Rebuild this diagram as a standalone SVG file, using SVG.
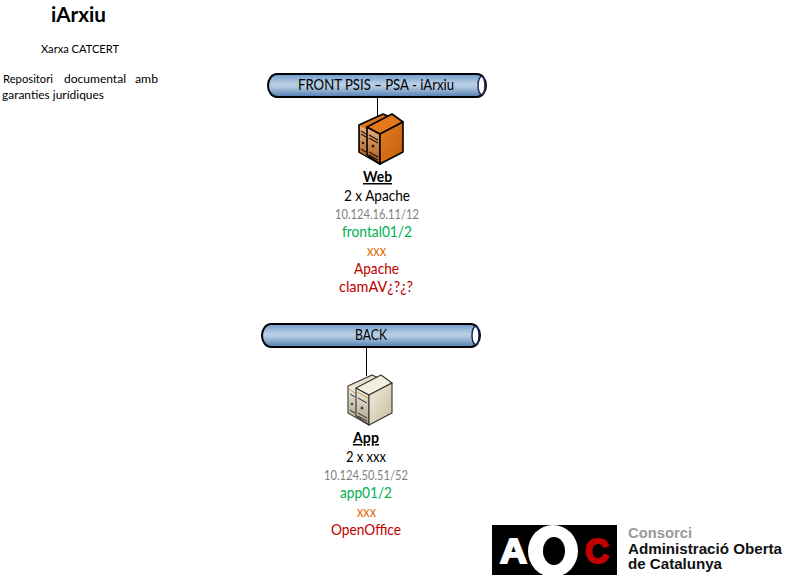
<svg xmlns="http://www.w3.org/2000/svg" width="794" height="586" viewBox="0 0 794 586">
<style>
text{font-family:"Lato","Carlito","Liberation Sans",sans-serif;font-size:15px;fill:#000}
.ip{font-size:13px;fill:#7f7f7f}
.gr{fill:#00b050}
.or{fill:#e36c0a}
.rd{fill:#c00000}
.hd{font-weight:700;text-decoration:underline}
.sm{font-size:12px}
.lg{font-family:"Liberation Sans",Arial,sans-serif;font-weight:700}
.pipe{fill:url(#pg);stroke:#000;stroke-width:2}
.cap{fill:#fff;stroke:#1f2a5a;stroke-width:1.500}
.link{stroke:#000;stroke-width:1;fill:none}
.ol{stroke:#000;stroke-width:1.600;stroke-linejoin:round}
.ob{stroke:#333;stroke-width:1.100;stroke-linejoin:round}
</style>
<defs>
<linearGradient id="pg" x1="0" y1="0" x2="0" y2="1">
<stop offset="0" stop-color="#6f9ccb"/><stop offset="0.45" stop-color="#bcd0e5"/><stop offset="0.6" stop-color="#a9c2dc"/><stop offset="1" stop-color="#4f7db2"/>
</linearGradient>
<linearGradient id="ogf" x1="0" y1="0" x2="1" y2="1"><stop offset="0" stop-color="#e57f20"/><stop offset="1" stop-color="#c05c0c"/></linearGradient>
<linearGradient id="ogs" x1="0" y1="0" x2="0" y2="1"><stop offset="0" stop-color="#e8b080"/><stop offset="1" stop-color="#a85a18"/></linearGradient>
<linearGradient id="bgf" x1="0" y1="0" x2="1" y2="1"><stop offset="0" stop-color="#f5efe0"/><stop offset="1" stop-color="#c8ba9a"/></linearGradient>
<linearGradient id="bgs" x1="0" y1="0" x2="0" y2="1"><stop offset="0" stop-color="#f5f0e4"/><stop offset="1" stop-color="#a89c84"/></linearGradient>
</defs>

<g id="connectors">
<line class="link" x1="377.500" y1="97" x2="377.500" y2="116"/>
<line class="link" x1="366.500" y1="347" x2="366.500" y2="376"/>
</g>

<g id="title">
<text x="51" y="22" style="font-size:20px;font-weight:700" textLength="55" lengthAdjust="spacingAndGlyphs">iArxiu</text>
<text x="41" y="53" class="sm" textLength="78" lengthAdjust="spacingAndGlyphs">Xarxa CATCERT</text>
<text x="3" y="83" class="sm" textLength="50" lengthAdjust="spacingAndGlyphs">Repositori</text>
<text x="64" y="83" class="sm" textLength="62" lengthAdjust="spacingAndGlyphs">documental</text>
<text x="135" y="83" class="sm" textLength="23" lengthAdjust="spacingAndGlyphs">amb</text>
<text x="2" y="99" class="sm" textLength="102" lengthAdjust="spacingAndGlyphs">garanties jurídiques</text>
</g>

<g id="pipe-front">
<rect class="pipe" x="268" y="74" width="218" height="23" rx="9" ry="11.500"/>
<ellipse class="cap" cx="481.500" cy="85.500" rx="3.500" ry="9"/>
<text x="298" y="90" textLength="156" lengthAdjust="spacingAndGlyphs">FRONT PSIS – PSA - iArxiu</text>
</g>

<g id="pipe-back">
<rect class="pipe" x="262" y="324" width="218" height="23" rx="9" ry="11.500"/>
<ellipse class="cap" cx="475.500" cy="335.500" rx="3.500" ry="9"/>
<text x="355" y="340" textLength="32" lengthAdjust="spacingAndGlyphs">BACK</text>
</g>

<g id="web">
<g id="web-icon">
<path class="ol" fill="url(#ogf)" d="M359 125L383 114L392 118L367 130V155L380 164L359 152Z"/>
<path fill="url(#ogs)" d="M360 126L367 130V155L375 161L360 152Z"/>
<path class="ol" fill="url(#ogs)" d="M367 127L380 134V164L367 155Z"/>
<path class="ol" fill="#e27a1c" d="M367 127L392 114L403 122L380 134Z"/>
<path class="ol" fill="url(#ogf)" d="M380 134L403 122V152L380 164Z"/>
<path stroke="#2a1505" stroke-width="1.300" fill="none" d="M369 135L378 140M369 138L378 143M369 152L378 157M369 155L378 160M361 131L366 134M361 134L366 137M361 149L366 152"/>
<circle cx="373" cy="146" r="1.500" fill="#2a1505"/><circle cx="363" cy="143" r="1.300" fill="#2a1505"/>
</g>
<text x="363" y="182" class="hd" textLength="29" lengthAdjust="spacingAndGlyphs">Web</text>
<text x="344" y="201" textLength="66" lengthAdjust="spacingAndGlyphs">2 x Apache</text>
<text x="335" y="219" class="ip" textLength="84" lengthAdjust="spacingAndGlyphs">10.124.16.11/12</text>
<text x="342" y="237" class="gr" textLength="70" lengthAdjust="spacingAndGlyphs">frontal01/2</text>
<text x="367" y="256" class="or" textLength="19" lengthAdjust="spacingAndGlyphs">xxx</text>
<text x="354" y="274" class="rd" textLength="45" lengthAdjust="spacingAndGlyphs">Apache</text>
<text x="339" y="292" class="rd" textLength="74" lengthAdjust="spacingAndGlyphs">clamAV¿?¿?</text>
</g>

<g id="app">
<g id="app-icon" transform="translate(-11,261)">
<path class="ob" fill="url(#bgf)" d="M359 125L383 114L392 118L367 130V155L380 164L359 152Z"/>
<path fill="url(#bgs)" d="M360 126L367 130V155L375 161L360 152Z"/>
<path class="ob" fill="url(#bgs)" d="M367 127L380 134V164L367 155Z"/>
<path class="ob" fill="#f3eee0" d="M367 127L392 114L403 122L380 134Z"/>
<path class="ob" fill="url(#bgf)" d="M380 134L403 122V152L380 164Z"/>
<path stroke="#333" stroke-width="1" fill="none" d="M369 137L378 142M369 152L378 157M369 155L378 160M361 133L366 136M361 149L366 152"/>
<path stroke="#c89a50" stroke-width="1" fill="none" d="M368 131L379 137M360 128L366 132"/>
<circle cx="373" cy="147" r="1.500" fill="#444"/><circle cx="363" cy="143" r="1.300" fill="#444"/>
</g>
<text x="353" y="443" class="hd" textLength="26" lengthAdjust="spacingAndGlyphs">App</text>
<text x="346" y="462" textLength="40" lengthAdjust="spacingAndGlyphs">2 x xxx</text>
<text x="324" y="480" class="ip" textLength="84" lengthAdjust="spacingAndGlyphs">10.124.50.51/52</text>
<text x="340" y="498" class="gr" textLength="52" lengthAdjust="spacingAndGlyphs">app01/2</text>
<text x="357" y="517" class="or" textLength="19" lengthAdjust="spacingAndGlyphs">xxx</text>
<text x="331" y="535" class="rd" textLength="70" lengthAdjust="spacingAndGlyphs">OpenOffice</text>
</g>

<g id="logo">
<rect x="492" y="525" width="125" height="50" fill="#000"/>
<ellipse cx="553" cy="551" rx="25" ry="26" fill="#fff"/>
<ellipse cx="554" cy="551" rx="11" ry="14" fill="#000"/>
<text x="500" y="563" class="lg" style="font-size:35px;fill:#fff;stroke:#fff;stroke-width:2" textLength="27" lengthAdjust="spacingAndGlyphs">A</text>
<text x="585" y="563" class="lg" style="font-size:35px;fill:#c00000;stroke:#c00000;stroke-width:2" textLength="24" lengthAdjust="spacingAndGlyphs">C</text>
<text x="628" y="538" class="lg" style="font-size:14px;fill:#999" textLength="64" lengthAdjust="spacingAndGlyphs">Consorci</text>
<text x="628" y="554" class="lg" style="font-size:14px;fill:#111" textLength="154" lengthAdjust="spacingAndGlyphs">Administració Oberta</text>
<text x="628" y="569" class="lg" style="font-size:14px;fill:#111" textLength="94" lengthAdjust="spacingAndGlyphs">de Catalunya</text>
</g>
</svg>
